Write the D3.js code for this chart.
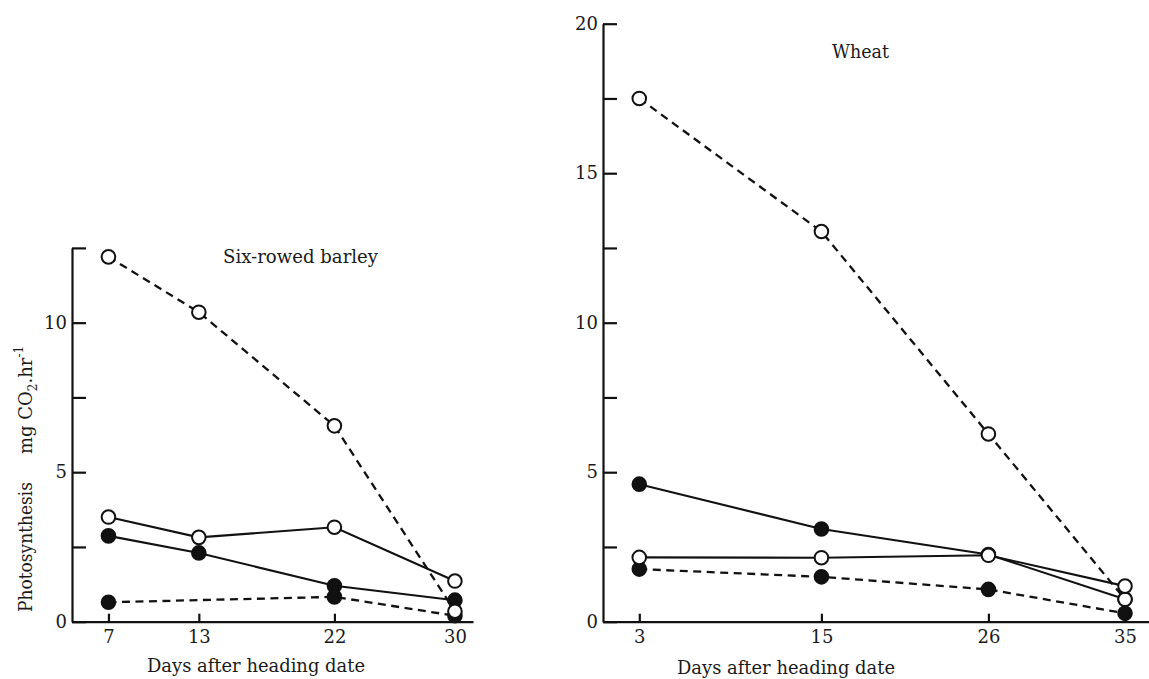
<!DOCTYPE html>
<html>
<head>
	<meta charset="utf-8">
	<title>Photosynthesis after heading date</title>
	<style>
		body { margin: 0; background: #fff; }
		svg { display: block; }
		.axis path, .axis line { stroke: #111; stroke-width: 2.2px; }
		.axis text { font-family: "DejaVu Serif", serif; font-size: 18px; fill: #1a1a1a; }
		.line { fill: none; stroke: #111; stroke-width: 2.1px; }
		.dashed { stroke-dasharray: 8 5.5; stroke-width: 2.3px; }
		.lbl { font-family: "DejaVu Serif", serif; font-size: 18px; fill: #1a1a1a; }
	</style>
	<script src="https://cdn.jsdelivr.net/npm/d3@7"></script>
</head>
<body>
	<svg width="1149" height="679"></svg>
	<script>

		// six-rowed barley
		var barleyDays = [7, 13, 22, 30];
		var barleyOpenDashed = [12.2, 10.35, 6.55, 0.35];
		var barleyOpenSolid = [3.5, 2.82, 3.16, 1.36];
		var barleyFilledSolid = [2.87, 2.3, 1.2, 0.72];
		var barleyFilledDashedDays = [7, 22, 30];
		var barleyFilledDashed = [0.65, 0.83, 0.2];

		// wheat
		var wheatDays = [3, 15, 26, 35];
		var wheatOpenDashed = [17.5, 13.05, 6.28, 0.75];
		var wheatFilledSolid = [4.6, 3.1, 2.25, 0.75];
		var wheatOpenSolid = [2.15, 2.14, 2.22, 1.19];
		var wheatFilledDashed = [1.76, 1.5, 1.08, 0.28];

		var barleyYTicks = [0, 2.5, 5, 7.5, 10, 12.5];
		var wheatYTicks = [0, 2.5, 5, 7.5, 10, 12.5, 15, 17.5, 20];

		var svg = d3.select("svg");

		function makeSeries(days, vals, filled, dashed) {
			return {pts: days.map(function(d, i) { return {x: d, y: vals[i]}; }), filled: filled, dashed: dashed};
		}

		function drawPanel(x, y, xTicks, yTicks, series) {
			var g = svg.append("g");

			g.append("g")
				.attr("class", "axis")
				.attr("transform", "translate(0," + y.range()[0] + ")")
				.call(d3.axisBottom(x).tickValues(xTicks).tickSize(-8).tickSizeOuter(0).tickPadding(9));

			g.append("g")
				.attr("class", "axis")
				.attr("transform", "translate(" + x.range()[0] + ",0)")
				.call(d3.axisLeft(y).tickValues(yTicks).tickSize(-14).tickSizeOuter(0).tickPadding(5)
					.tickFormat(function(d) { return d % 5 == 0 ? d : ""; }));

			var line = d3.line()
				.x(function(d) { return x(d.x); })
				.y(function(d) { return y(d.y); });

			series.forEach(function(s) {
				g.append("path")
					.datum(s.pts)
					.attr("class", s.dashed ? "line dashed" : "line")
					.attr("d", line);
			});

			// filled markers first, open ones on top
			series.slice().sort(function(a, b) { return b.filled - a.filled; }).forEach(function(s) {
				g.selectAll(null)
					.data(s.pts)
					.enter().append("circle")
					.attr("cx", function(d) { return x(d.x); })
					.attr("cy", function(d) { return y(d.y); })
					.attr("r", 6.8)
					.attr("fill", s.filled ? "#111" : "#fff")
					.attr("stroke", "#111")
					.attr("stroke-width", 2);
			});
			return g;
		}

		var xB = d3.scaleLinear().domain([4.58, 31.2]).range([72, 473]);
		var yB = d3.scaleLinear().domain([0, 12.5]).range([621.7, 247.9]);

		drawPanel(xB, yB, barleyDays, barleyYTicks, [
			makeSeries(barleyDays, barleyOpenDashed, false, true),
			makeSeries(barleyDays, barleyOpenSolid, false, false),
			makeSeries(barleyDays, barleyFilledSolid, true, false),
			makeSeries(barleyFilledDashedDays, barleyFilledDashed, true, true)
		]);

		var xW = d3.scaleLinear().domain([0.61, 36.58]).range([603, 1149]);
		var yW = d3.scaleLinear().domain([0, 20]).range([621.7, 23.7]);

		drawPanel(xW, yW, wheatDays, wheatYTicks, [
			makeSeries(wheatDays, wheatOpenDashed, false, true),
			makeSeries(wheatDays, wheatFilledSolid, true, false),
			makeSeries(wheatDays, wheatOpenSolid, false, false),
			makeSeries(wheatDays, wheatFilledDashed, true, true)
		]);

		// titles and axis labels
		svg.append("text").attr("class", "lbl")
			.attr("x", 223).attr("y", 263)
			.attr("textLength", 155).attr("lengthAdjust", "spacingAndGlyphs")
			.text("Six-rowed barley");

		svg.append("text").attr("class", "lbl")
			.attr("x", 832).attr("y", 58)
			.attr("textLength", 57).attr("lengthAdjust", "spacingAndGlyphs")
			.text("Wheat");

		svg.append("text").attr("class", "lbl")
			.attr("x", 147).attr("y", 672)
			.attr("textLength", 218).attr("lengthAdjust", "spacingAndGlyphs")
			.text("Days after heading date");

		svg.append("text").attr("class", "lbl")
			.attr("x", 677).attr("y", 674)
			.attr("textLength", 218).attr("lengthAdjust", "spacingAndGlyphs")
			.text("Days after heading date");

		svg.append("text").attr("class", "lbl")
			.attr("transform", "translate(32,612) rotate(-90)")
			.attr("textLength", 130).attr("lengthAdjust", "spacingAndGlyphs")
			.text("Photosynthesis");

		var unit = svg.append("text").attr("class", "lbl")
			.attr("transform", "translate(32,454) rotate(-90)");
		unit.append("tspan").text("mg CO");
		unit.append("tspan").attr("font-size", 12).attr("dy", 5).text("2");
		unit.append("tspan").attr("dy", -5).text(".hr");
		unit.append("tspan").attr("font-size", 12).attr("dy", -9).text("-1");

	</script>
</body>
</html>
